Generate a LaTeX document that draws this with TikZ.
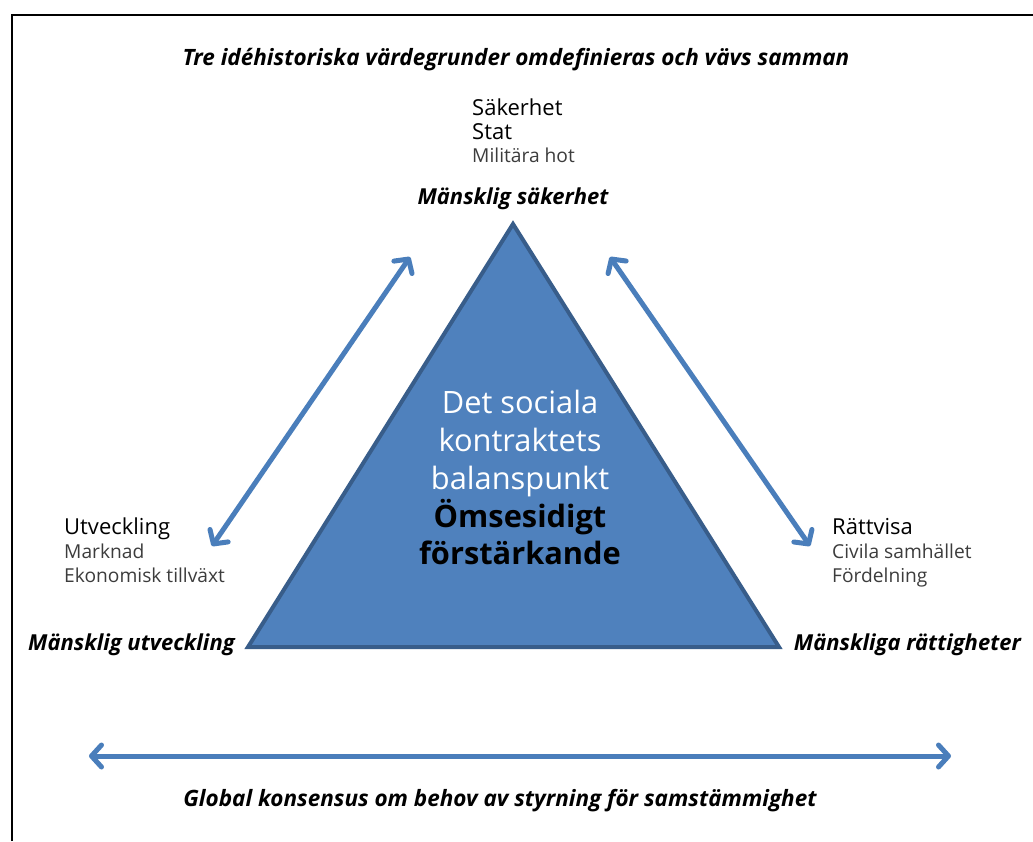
\documentclass[tikz,border=0pt]{standalone}
\usepackage{fontspec}
\setmainfont{Open Sans}
\usetikzlibrary{arrows.meta}
\definecolor{trifill}{RGB}{79,129,189}
\definecolor{tridraw}{RGB}{56,93,138}
\definecolor{arrowblue}{RGB}{74,126,187}
\definecolor{graytext}{RGB}{60,60,60}
\tikzset{
  x=1pt, y=-1pt,
  heading/.style={font=\fontsize{22.5}{26}\selectfont\bfseries\itshape, inner sep=0pt, anchor=base},
  corner/.style={font=\fontsize{22}{26}\selectfont\bfseries\itshape, inner sep=0pt},
  listhead/.style={anchor=base west, inner sep=0pt, font=\fontsize{22}{26}\selectfont},
  listitem/.style={anchor=base west, inner sep=0pt, font=\fontsize{19.2}{24}\selectfont, text=graytext},
  dbl/.style={draw=arrowblue, line width=5pt,
    {Straight Barb[length=10pt,width=22pt,round]}-{Straight Barb[length=10pt,width=22pt,round]}},
  lighttext/.style={anchor=base, inner sep=0pt, font=\fontsize{30.8}{37}\selectfont, text=white},
  boldtext/.style={anchor=base, inner sep=0pt, font=\fontsize{30.8}{37}\selectfont\bfseries, text=black}
}
\begin{document}
\begin{tikzpicture}
\useasboundingbox (0,0) rectangle (1033,841);
\draw[line width=2.5pt] (12,841) -- (12,15) -- (1033,15);
% heading
\node[heading] (title) at (516,65) {Tre idéhistoriska värdegrunder omdefinieras och vävs samman};
% triangle
\coordinate (apex) at (513,224);
\coordinate (bl) at (248,647);
\coordinate (br) at (779,647);
\filldraw[fill=trifill, draw=tridraw, line width=4pt, line join=miter] (apex) -- (br) -- (bl) -- cycle;
\node[lighttext] (c1) at (520,413) {Det sociala};
\node[lighttext] (c2) at (520,451) {kontraktets};
\node[lighttext] (c3) at (520,489) {balanspunkt};
\node[boldtext] (c4) at (520,527) {Ömsesidigt};
\node[boldtext] (c5) at (520,564) {förstärkande};
% top texts
\node[listhead] (t1) at (472,115) {Säkerhet};
\node[listhead] (t2) at (472,139) {Stat};
\node[listitem] (t3) at (472,162) {Militära hot};
\node[corner, anchor=base] (ms) at (513,204) {Mänsklig säkerhet};
% left
\node[listhead] (l1) at (64,534) {Utveckling};
\node[listitem] (l2) at (64,558) {Marknad};
\node[listitem] (l3) at (64,582) {Ekonomisk tillväxt};
\node[corner, anchor=base west] (mu) at (28,650) {Mänsklig utveckling};
% right
\node[listhead] (r1) at (832,534) {Rättvisa};
\node[listitem] (r2) at (832,558) {Civila samhället};
\node[listitem] (r3) at (832,582) {Fördelning};
\node[corner, anchor=base east] (mr) at (1021,650) {Mänskliga rättigheter};
% arrows
\coordinate (la1) at (410,257);
\coordinate (la2) at (212,546);
\coordinate (ra1) at (610,257);
\coordinate (ra2) at (810,546);
\coordinate (ba1) at (89,756);
\coordinate (ba2) at (951,756);
\draw[dbl] (la1) -- (la2);
\draw[dbl] (ra1) -- (ra2);
\draw[dbl] (ba1) -- (ba2);
\node[heading] (bottom) at (500,806) {Global konsensus om behov av styrning för samstämmighet};
\end{tikzpicture}
\end{document}
